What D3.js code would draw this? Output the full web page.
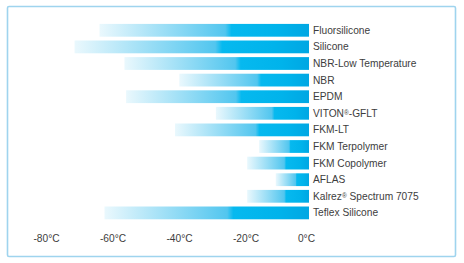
<!DOCTYPE html>
<html>
<head>
<meta charset="utf-8">
<script src="https://cdn.jsdelivr.net/npm/d3@7"></script>
<style>
  body { margin: 0; background: #fff; }
  text { font-family: "Liberation Sans", Arial, sans-serif; fill: #3d3d3d; }
</style>
</head>
<body>
<div id="chart"></div>
<script>
var materials = ["Fluorsilicone", "Silicone", "NBR-Low Temperature", "NBR", "EPDM",
  "VITON®-GFLT", "FKM-LT", "FKM Terpolymer", "FKM Copolymer", "AFLAS",
  "Kalrez® Spectrum 7075", "Teflex Silicone"];
var minTemps = [-63, -70.5, -55.5, -39, -55, -28, -40.3, -15, -18.6, -10, -18.6, -61.5];
var tickValues = [-80, -60, -40, -20, 0];

var width = 464, height = 263;

var svg = d3.select("#chart").append("svg")
    .attr("width", width)
    .attr("height", height);

// frame
svg.append("rect")
    .attr("x", 7.5).attr("y", 6.5)
    .attr("width", 448).attr("height", 250)
    .attr("rx", 1.5)
    .attr("fill", "none")
    .attr("stroke", "#9fd4ee")
    .attr("stroke-width", 1.6);

var x = d3.scaleLinear().domain([-80, 0]).range([43, 309]);
var y = d3.scaleBand().domain(materials).range([22, 221.2])
    .paddingInner(0.23).paddingOuter(0.115);

var grad = svg.append("defs").append("linearGradient")
    .attr("id", "barGrad")
    .attr("x1", "0%").attr("x2", "100%").attr("y1", "0%").attr("y2", "0%");
[[0, "#eaf8fd"], [0.6, "#52c6ef"], [0.63, "#06b9ef"], [0.85, "#00b3eb"], [1, "#00a7e3"]]
  .forEach(function(s) {
    grad.append("stop").attr("offset", s[0]).attr("stop-color", s[1]);
  });

var rows = materials.map(function(m, i) { return {name: m, t: minTemps[i]}; });

svg.selectAll("rect.bar")
    .data(rows)
    .enter()
    .append("rect")
    .attr("class", "bar")
    .attr("x", function(d) { return x(d.t); })
    .attr("y", function(d) { return y(d.name); })
    .attr("width", function(d) { return x(0) - x(d.t); })
    .attr("height", y.bandwidth())
    .attr("fill", "url(#barGrad)");

var labels = svg.selectAll("text.label")
    .data(rows)
    .enter()
    .append("text")
    .attr("class", "label")
    .attr("x", x(0) + 4)
    .attr("y", function(d) { return y(d.name) + y.bandwidth() / 2; })
    .attr("dy", "0.35em")
    .attr("font-size", 10.2);

// registered mark drawn small and raised
labels.each(function(d) {
  var t = d3.select(this);
  var parts = d.name.split("®");
  parts.forEach(function(p, i) {
    if (i > 0) {
      t.append("tspan").attr("font-size", 6.5).attr("baseline-shift", "35%").text("®");
    }
    t.append("tspan").text(p);
  });
});

// temperature axis, labels only
var axis = svg.append("g")
    .attr("transform", "translate(0,238)")
    .call(d3.axisBottom(x).tickValues(tickValues)
      .tickSize(0)
      .tickFormat(function(d) { return d + "°C"; }));
axis.select(".domain").remove();
axis.selectAll("text")
    .attr("y", 0)
    .attr("dy", "0.35em")
    .attr("dx", function(d) { return d < 0 ? 3 : -3; })
    .attr("font-size", 10.2)
    .attr("font-family", "Liberation Sans, Arial, sans-serif")
    .attr("fill", "#3d3d3d");
</script>
</body>
</html>
